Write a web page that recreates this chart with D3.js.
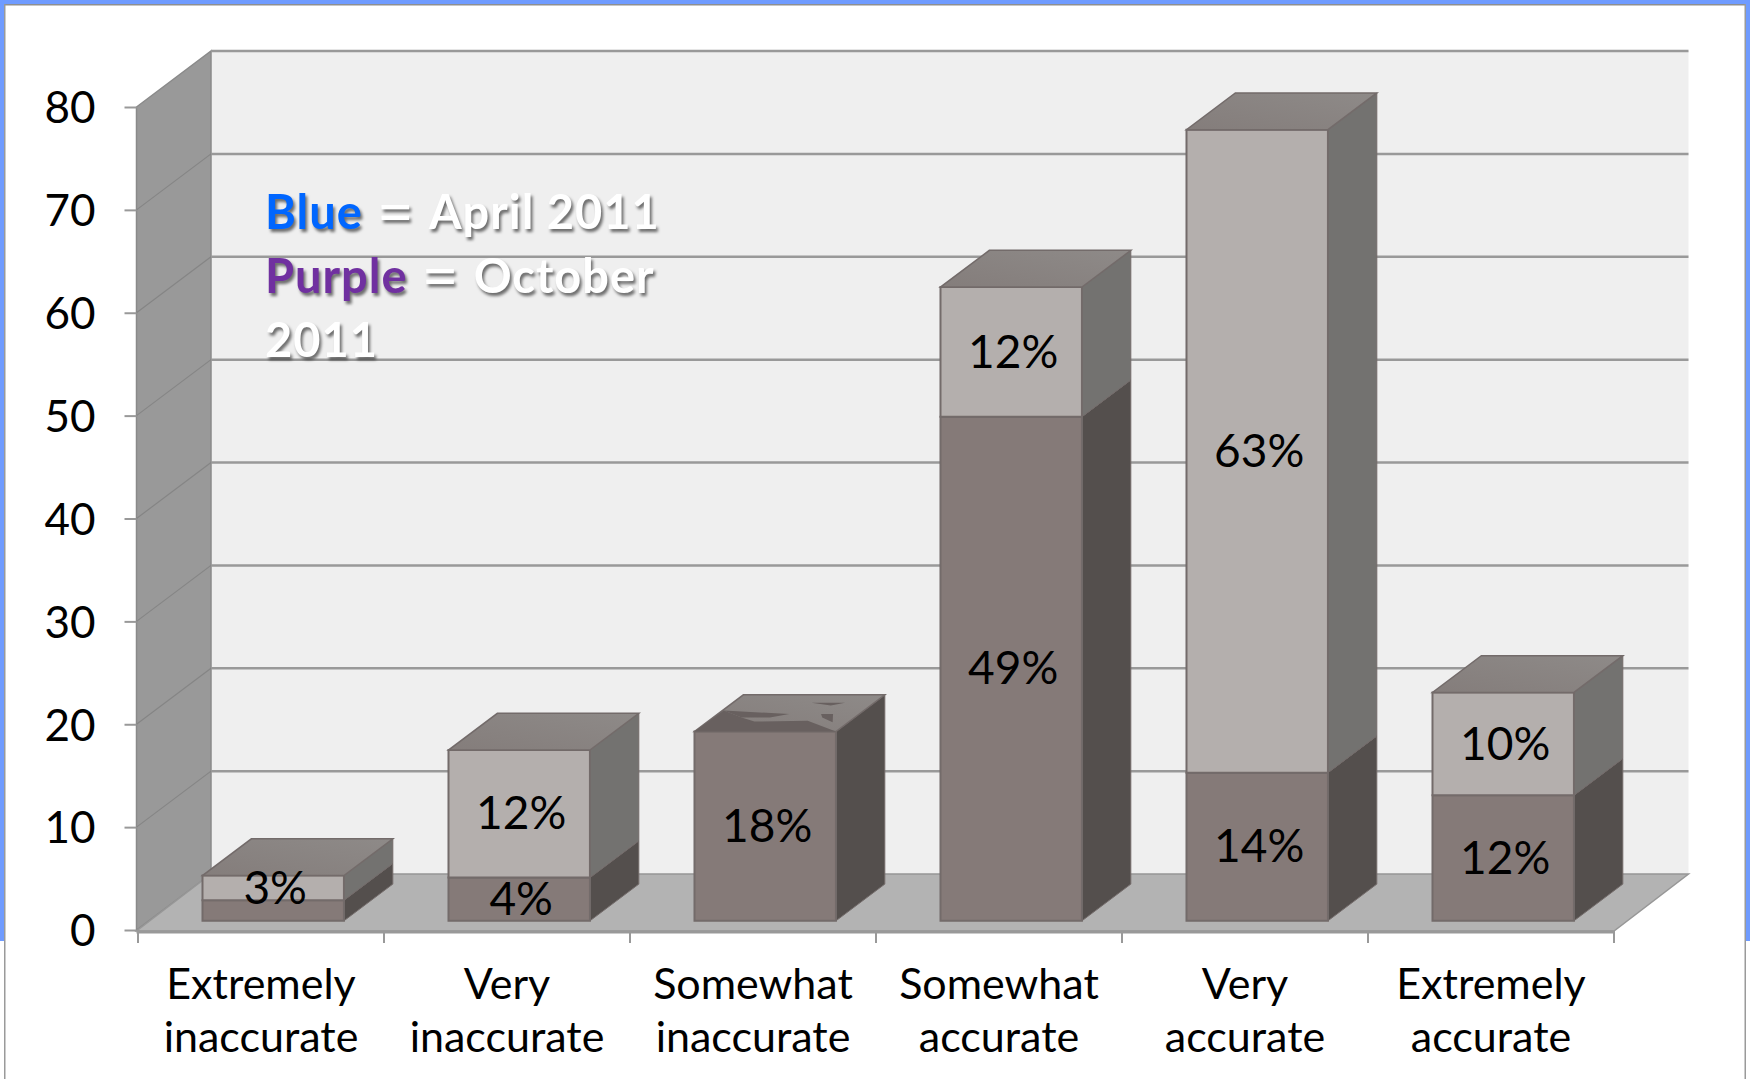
<!DOCTYPE html>
<html><head><meta charset="utf-8">
<script src="https://cdn.jsdelivr.net/npm/d3@7"></script>
<style>
html,body{margin:0;padding:0;background:#fff}
svg{display:block}
text{font-family:Lato,"Noto Sans",sans-serif;fill:#000}
</style></head><body>
<svg id="c" width="1750" height="1079"></svg>
<script>
const categoriesLine1 = ["Extremely","Very","Somewhat","Somewhat","Very","Extremely"];
const categoriesLine2 = ["inaccurate","inaccurate","inaccurate","accurate","accurate","accurate"];
const lowerValues = [2,4.2,18.4,49,14.4,12.2];
const upperValues = [2.4,12.4,0,12.6,62.5,10];
const lowerLabels = ["","4%","18%","49%","14%","12%"];
const upperLabels = ["3%","12%","","12%","63%","10%"];
const yTicks = [0,10,20,30,40,50,60,70,80];

const W=1750,H=1079;
const svg=d3.select("#c");
const ids=categoriesLine1.map((d,i)=>i);
const x=d3.scaleBand().domain(ids).range([138,1614]);
const y=d3.scaleLinear().domain([0,80]).range([930,107]);
const DX=74.5,DY=56;
const px=(xv,d)=>xv+d*DX;
const py=(v,d)=>y(v)-d*DY;
const line=pts=>"M"+pts.map(p=>p.join(",")).join("L")+"Z";

// frame
const frame=svg.append("g");
frame.append("rect").attr("x",0).attr("y",0).attr("width",W).attr("height",4).attr("fill","#6f9bff");
frame.append("rect").attr("x",0).attr("y",0).attr("width",4.5).attr("height",941).attr("fill","#6f9bff");
frame.append("rect").attr("x",1746).attr("y",0).attr("width",4).attr("height",941).attr("fill","#6f9bff");
frame.append("rect").attr("x",5).attr("y",4).attr("width",1740).attr("height",1.5).attr("fill","#8f8f8f");
frame.append("rect").attr("x",4).attr("y",4).attr("width",1.5).attr("height",1075).attr("fill","#9a9a9a");
frame.append("rect").attr("x",1744.5).attr("y",4).attr("width",1.5).attr("height",1075).attr("fill","#9a9a9a");

// walls
const x0=136.5,x1=1614;
const chart=svg.append("g");
chart.append("path").attr("d",line([[px(x0,1),py(80,1)],[px(1614,1),py(80,1)],[px(1614,1),py(0,1)],[px(x0,1),py(0,1)]])).attr("fill","#efefef");
chart.append("path").attr("d",line([[x0,y(80)],[px(x0,1),py(80,1)],[px(x0,1),py(0,1)],[x0,y(0)]])).attr("fill","#999999").attr("stroke","#8a8a8a").attr("stroke-width",1.5);
chart.append("path").attr("d",line([[x0,y(0)+1],[px(1614,0),y(0)+1],[px(1614,1),py(0,1)],[px(x0,1),py(0,1)]])).attr("fill","#b3b3b3").attr("stroke","#979797").attr("stroke-width",1.5);

// gridlines
chart.selectAll("line.g").data(yTicks.filter(d=>d>0)).join("line").attr("class","g")
  .attr("x1",px(x0,1)).attr("x2",px(1614,1)).attr("y1",d=>py(d,1)).attr("y2",d=>py(d,1))
  .attr("stroke","#999999").attr("stroke-width",2.5);
chart.selectAll("line.d").data(yTicks.filter(d=>d>0&&d<80)).join("line").attr("class","d")
  .attr("x1",x0).attr("x2",px(x0,1)).attr("y1",d=>y(d)).attr("y2",d=>py(d,1))
  .attr("stroke","#858585").attr("stroke-width",1.2);

// axes
const yAxis=d3.axisLeft(y).tickValues(yTicks).tickSize(12).tickPadding(29);
const gy=svg.append("g").attr("transform",`translate(${x0},0)`).call(yAxis);
gy.select(".domain").remove();
gy.selectAll("line").attr("stroke","#999").attr("stroke-width",2);
gy.selectAll("text").attr("font-size",44).attr("dy","0.36em").style("font-family","Lato");

// x axis
const gx=svg.append("g");
const edges=[...ids.map(i=>x(i)),x(ids[ids.length-1])+x.bandwidth()];
gx.append("line").attr("x1",x0).attr("x2",x1+1).attr("y1",y(0)+2).attr("y2",y(0)+2).attr("stroke","#999").attr("stroke-width",3);
gx.selectAll("line.t").data(edges).join("line").attr("class","t").attr("x1",d=>d).attr("x2",d=>d).attr("y1",y(0)+2).attr("y2",y(0)+13).attr("stroke","#999").attr("stroke-width",2);
const labs=gx.selectAll("g.c").data(ids).join("g").attr("class","c").attr("transform",i=>`translate(${x(i)+x.bandwidth()/2},0)`);
labs.append("text").attr("y",999).attr("text-anchor","middle").attr("font-size",43).text(i=>categoriesLine1[i]);
labs.append("text").attr("y",1052).attr("text-anchor","middle").attr("font-size",43).text(i=>categoriesLine2[i]);

// bars
const dF=0.164,dB=0.82,barW=x.bandwidth()*0.575;
const STROKE="#736b6a";
const col={lower:{front:"#857a78",side:"#544f4d"},upper:{front:"#b4afad",side:"#737270"}};
const defs=svg.append("defs");
const tg=defs.append("linearGradient").attr("id","tg").attr("x1",0).attr("x2",1).attr("y1",1).attr("y2",0);
tg.append("stop").attr("offset",0).attr("stop-color","#847d7b");
tg.append("stop").attr("offset",1).attr("stop-color","#8e8a88");

const bars=svg.append("g");
function segment(i,v0,v1,c){
  const cx=x(i)+x.bandwidth()/2;
  const l=cx-barW/2,r=cx+barW/2;
  const g=bars.append("g");
  g.append("path").attr("d",line([[px(r,dF),py(v0,dF)],[px(r,dB),py(v0,dB)],[px(r,dB),py(v1,dB)],[px(r,dF),py(v1,dF)]])).attr("fill",c.side).attr("stroke",STROKE).attr("stroke-width",1);
  g.append("path").attr("d",line([[px(l,dF),py(v0,dF)],[px(r,dF),py(v0,dF)],[px(r,dF),py(v1,dF)],[px(l,dF),py(v1,dF)]])).attr("fill",c.front).attr("stroke",STROKE).attr("stroke-width",2);
}
function topFace(i,v,glitch){
  const cx=x(i)+x.bandwidth()/2;
  const l=cx-barW/2,r=cx+barW/2;
  const g=bars.append("g");
  g.append("path").attr("d",line([[px(l,dF),py(v,dF)],[px(r,dF),py(v,dF)],[px(r,dB),py(v,dB)],[px(l,dB),py(v,dB)]])).attr("fill","url(#tg)").attr("stroke",STROKE).attr("stroke-width",1.5);
  if(glitch){
    // rendering artefact on the third bar's lid, mapped onto the face (u across, t into depth)
    const m=([u,t])=>{const d=dF+(dB-dF)*t;return [px(l+u*(r-l),d),py(v,d)];};
    [[[0,0],[.01,.57],[.2,.385],[.33,.27],[.7,.29],[1,0]],
     [[.01,.57],[.505,.477],[.4,.385],[.2,.385]],
     [[.557,.78],[.795,.78],[.72,.706]],
     [[.73,.477],[.815,.477],[.89,.25],[.77,.385]]]
    .forEach(p=>g.append("path").attr("d",line(p.map(m))).attr("fill","#68605f"));
  }
}
ids.forEach(i=>{
  const a=lowerValues[i],b=upperValues[i];
  if(a>0) segment(i,0,a,col.lower);
  if(b>0) segment(i,a,a+b,col.upper);
  topFace(i,a+b,b===0);
});

// data labels
const dl=svg.append("g");
const yb=v=>py(v,dF);
ids.forEach(i=>{
  const cx=x(i)+x.bandwidth()/2+dF*DX+2;
  const a=lowerValues[i],b=upperValues[i];
  if(lowerLabels[i]) dl.append("text").attr("x",cx).attr("y",(yb(0)+yb(a))/2).attr("dy","0.34em").attr("text-anchor","middle").attr("font-size",46).text(lowerLabels[i]);
  if(upperLabels[i]) dl.append("text").attr("x",cx).attr("y",(yb(a)+yb(a+b))/2).attr("dy","0.34em").attr("text-anchor","middle").attr("font-size",46).text(upperLabels[i]);
});

// annotation
const legendLines=[[["Blue","#0066ff"],["=","#fff"],["April 2011","#fff"]],[["Purple","#7030a0"],["=","#fff"],["October","#fff"]],[["2011","#fff"]]];
const ann=svg.append("g").style("filter","drop-shadow(2px 3px 1.5px rgba(0,0,0,0.55))");
legendLines.forEach((ln,k)=>{
  const t=ann.append("text").attr("x",265).attr("y",229+k*64).attr("font-size",47).attr("font-weight",700).attr("letter-spacing",1).style("white-space","pre");
  ln.forEach(s=>{
    if(s[0]==="="){
      t.append("tspan").attr("dx",14).attr("dy",5).attr("font-size",64).attr("font-weight",400).style("fill",s[1]).text(s[0]);
    } else if(t.selectAll("tspan").size()>0){
      t.append("tspan").attr("dx",14).attr("dy",-5).style("fill",s[1]).text(s[0]);
    } else {
      t.append("tspan").style("fill",s[1]).text(s[0]);
    }
  });
});
</script>
</body></html>
